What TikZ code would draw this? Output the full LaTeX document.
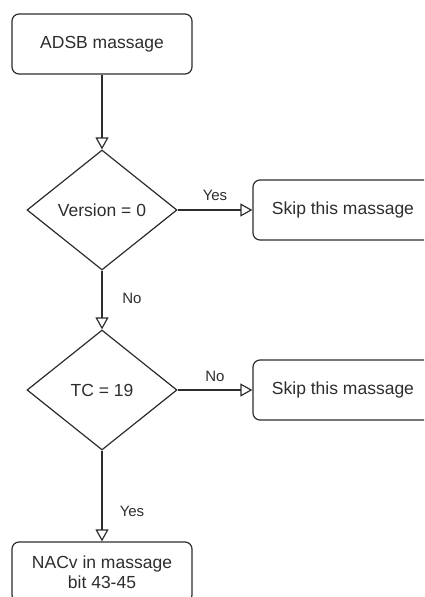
\documentclass[tikz,border=0pt]{standalone}
\usepackage{fontspec}
\setmainfont{Liberation Sans}
\usetikzlibrary{shapes.geometric,arrows.meta}
\definecolor{ink}{RGB}{45,45,45}
\begin{document}
\begin{tikzpicture}[x=1pt,y=-1pt,
  box/.style={draw=ink, line width=1.2pt, rounded corners=7pt,
    minimum width=180pt, minimum height=60pt, inner sep=0pt,
    align=center, font=\fontsize{17.5}{20}\selectfont, text=ink},
  decision/.style={draw=ink, line width=1.2pt, diamond, aspect=1.25,
    minimum width=150pt, minimum height=120pt, inner sep=0pt,
    font=\fontsize{17.5}{20}\selectfont, text=ink},
  flow/.style={draw=ink, line width=1.2pt,
    -{Triangle[open, length=12pt, width=13pt]}},
  lbl/.style={font=\fontsize{15}{18}\selectfont, text=ink}]
\useasboundingbox (0,0) rectangle (424,597);
\clip (0,0) rectangle (424,597);

% process steps and decisions
\node[box] (start) at (102,44) {ADSB massage};
\node[decision] (ver) at (102,210) {Version = 0};
\node[box] (skipA) at (343,210) {Skip this massage};
\node[decision] (tc) at (102,390) {TC = 19};
\node[box] (skipB) at (343,390) {Skip this massage};
\node[box] (nacv) at (102,572) {NACv in massage\\bit 43-45};

% connectors
\draw[flow] (start) -- (ver);
\draw[flow] (ver) -- (skipA);
\draw[flow] (ver) -- (tc);
\draw[flow] (tc) -- (skipB);
\draw[flow] (tc) -- (nacv);

% branch labels
\node[lbl] (yesA) at (215,195) {Yes};
\node[lbl] (noA) at (132,298) {No};
\node[lbl] (noB) at (215,376) {No};
\node[lbl] (yesB) at (132,511) {Yes};
\end{tikzpicture}
\end{document}
